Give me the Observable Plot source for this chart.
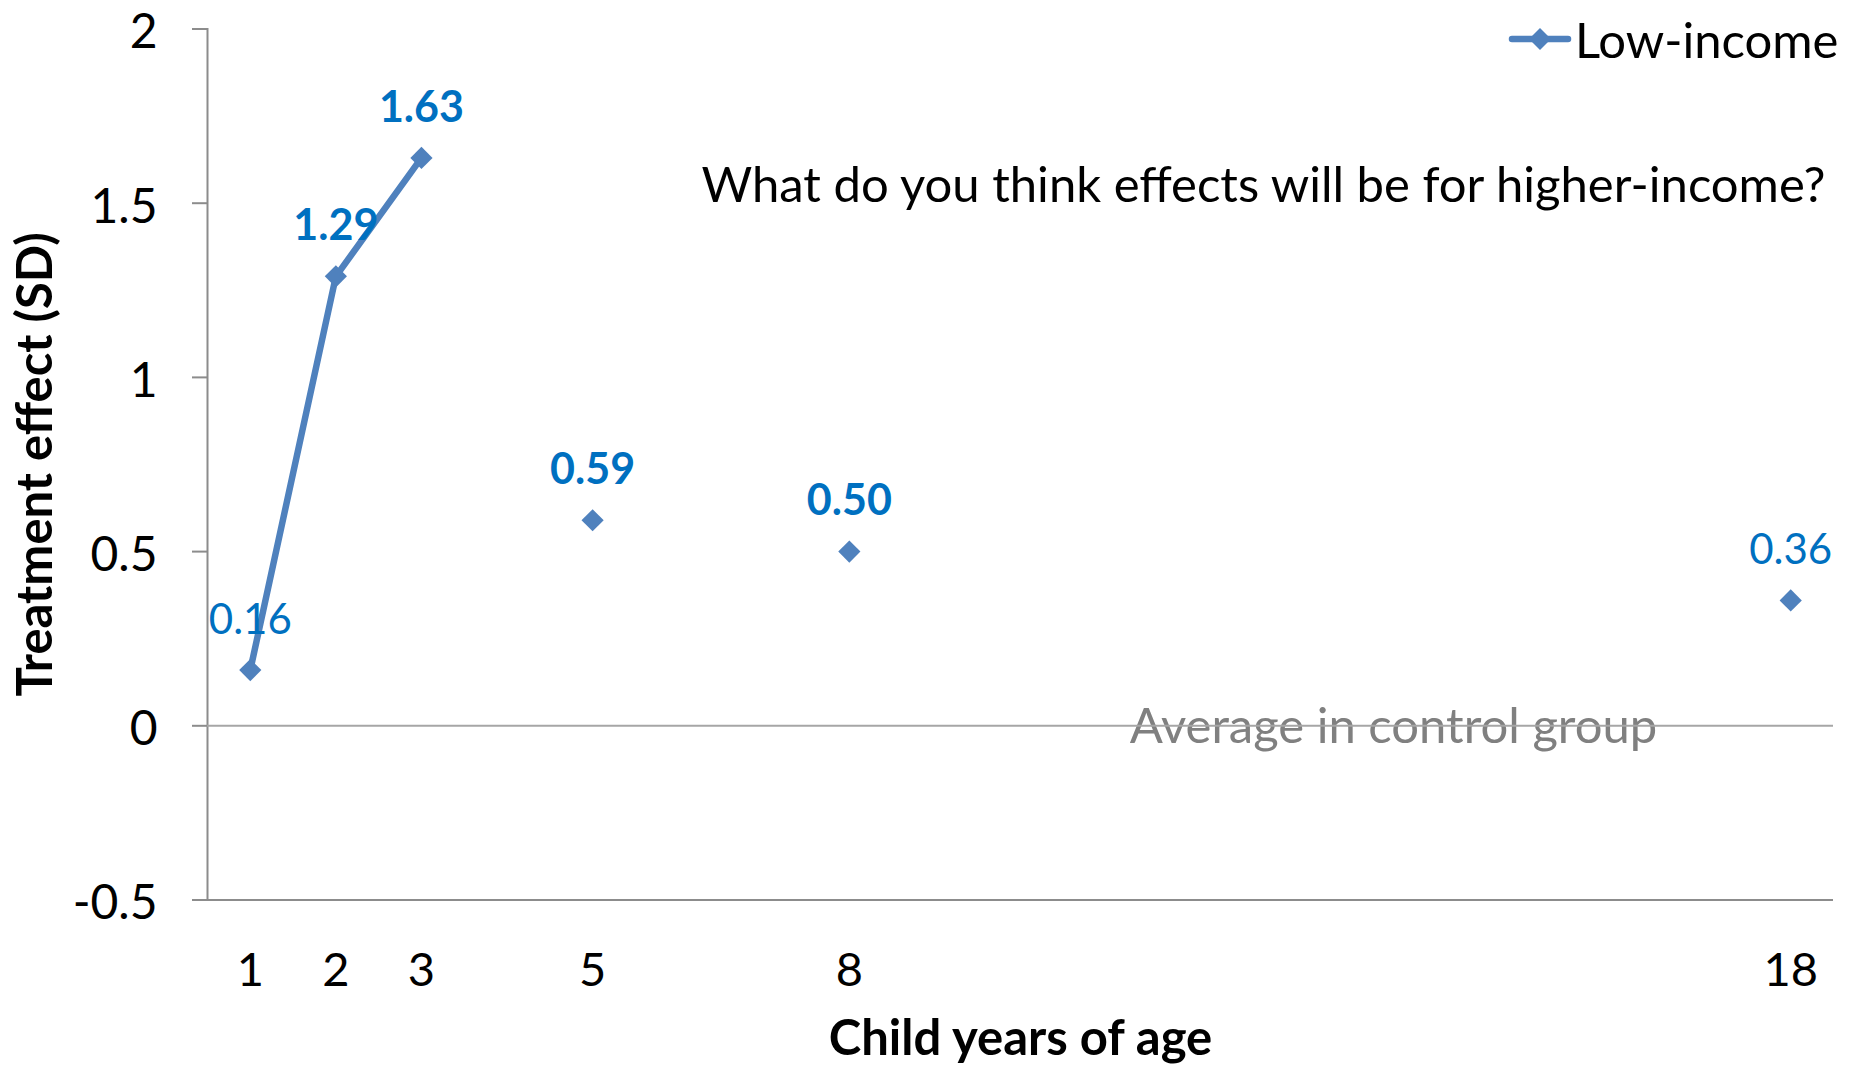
<!DOCTYPE html>
<html>
<head>
<meta charset="utf-8">
<script src="https://cdn.jsdelivr.net/npm/d3@7"></script>
<script src="https://cdn.jsdelivr.net/npm/@observablehq/plot@0.6"></script>
<style>
  body { margin: 0; background: #fff; }
  #wrap { position: relative; width: 1858px; height: 1065px; overflow: hidden; font-family: Lato, sans-serif; }
  #wrap svg.plot { position: absolute; left: 0; top: 0; overflow: visible; }
  #legend { position: absolute; left: 1508px; top: 13px; height: 52px; display: flex; align-items: center; font-size: 49px; line-height: 52px; color: #000; }
  #legend svg { display: block; margin-right: 3px; }
</style>
</head>
<body>
<div id="wrap"></div>
<script>
// ---- data ----
const ages = [1, 2, 3, 5, 8, 18];
const effects = [0.16, 1.29, 1.63, 0.59, 0.50, 0.36];
const valueLabels = ["0.16", "1.29", "1.63", "0.59", "0.50", "0.36"];
const xCategories = ["1","2","3","4","5","6","7","8","9","10","11","12","13","14","15","16","17","gap","18"];
const xTickLabels = ["1", "2", "3", "5", "8", "18"];
const yTicks = [-0.5, 0, 0.5, 1, 1.5, 2];
const yTickLabels = ["-0.5", "0", "0.5", "1", "1.5", "2"];
const seriesName = "Low-income";
const xTitle = "Child years of age";
const yTitle = "Treatment effect (SD)";
const questionText = "What do you think effects will be for higher-income?";
const controlText = "Average in control group";

const rows = ages.map((a, i) => ({age: String(a), effect: effects[i], label: valueLabels[i], n: a}));
const yTickRows = yTicks.map((v, i) => ({v, label: yTickLabels[i]}));

const blue = "#4F81BD";
const labelBlue = "#0070C0";

const chart = Plot.plot({
  width: 1858,
  height: 1065,
  marginLeft: 207,
  marginRight: 25,
  marginTop: 28.5,
  marginBottom: 165.5,
  style: {fontFamily: "Lato, sans-serif", fontSize: "48px", color: "#000", background: "#fff"},
  x: {type: "point", domain: xCategories, padding: 0.5, round: false},
  y: {domain: [-0.5, 2]},
  marks: [
    Plot.frame({anchor: "left", stroke: "#8c8c8c", strokeWidth: 2}),
    Plot.ruleY([-0.5], {stroke: "#8c8c8c", strokeWidth: 2}),
    Plot.axisY({ticks: yTicks, tickFormat: () => "", tickSize: 15, stroke: "#8c8c8c", strokeWidth: 2, label: null}),
    Plot.text(yTickRows, {y: "v", text: "label", frameAnchor: "left", textAnchor: "end", dx: -50, dy: 4, fontSize: 48, fill: "#000", lineAnchor: "middle"}),
    Plot.axisX({ticks: xTickLabels, tickSize: 0, tickPadding: 53, fontSize: 47, fill: "#000", label: null}),
    Plot.text([controlText], {y: () => 0, text: d => d, dx: 373, dy: 2, fill: "#808080", fontSize: 49, lineAnchor: "middle"}),
    Plot.ruleY([0], {stroke: "#a6a6a6", strokeWidth: 2}),
    Plot.line(rows.filter(d => d.n <= 3), {x: "age", y: "effect", stroke: blue, strokeWidth: 6.5}),
    Plot.dot(rows, {x: "age", y: "effect", symbol: "diamond2", r: 10, fill: blue, stroke: "none"}),
    Plot.text(rows.filter(d => [2,3,5,8].includes(d.n)), {x: "age", y: "effect", text: "label", dy: -50, fill: labelBlue, fontSize: 43, fontWeight: "bold", lineAnchor: "middle"}),
    Plot.text(rows.filter(d => ![2,3,5,8].includes(d.n)), {x: "age", y: "effect", text: "label", dy: -50, fill: labelBlue, fontSize: 42, lineAnchor: "middle"}),
    Plot.text([questionText], {text: d => d, frameAnchor: "top-right", textAnchor: "end", dx: -8, dy: 157.5, fontSize: 49, fill: "#000", lineAnchor: "middle"}),
    Plot.text([yTitle], {text: d => d, frameAnchor: "left", textAnchor: "middle", rotate: -90, dx: -171, fontSize: 49, fontWeight: "bold", fill: "#000", lineAnchor: "middle"}),
    Plot.text([xTitle], {text: d => d, frameAnchor: "bottom", textAnchor: "middle", dy: 139, fontSize: 49, fontWeight: "bold", fill: "#000", lineAnchor: "middle"})
  ]
});
chart.classList.add("plot");
const wrap = document.getElementById("wrap");
wrap.appendChild(chart);

const legend = document.createElement("div");
legend.id = "legend";
legend.innerHTML = `<svg width="64" height="24" viewBox="0 0 64 24"><line x1="4" y1="12" x2="60" y2="12" stroke="${blue}" stroke-width="6.5" stroke-linecap="round"/><path d="M32,1 L43,12 L32,23 L21,12 Z" fill="${blue}"/></svg><span></span>`;
legend.querySelector("span").textContent = seriesName;
wrap.appendChild(legend);
</script>
</body>
</html>
